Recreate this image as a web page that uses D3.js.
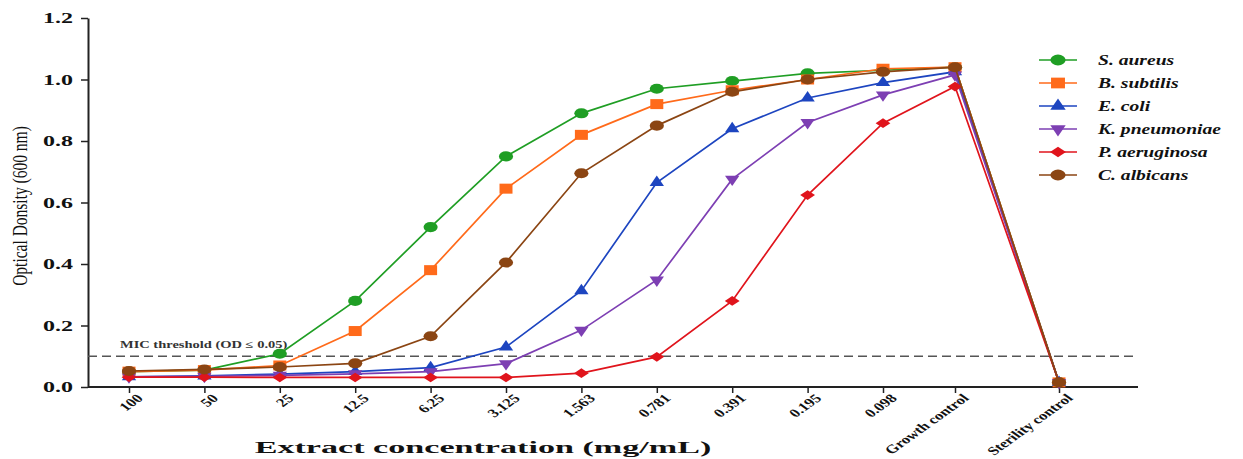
<!DOCTYPE html>
<html>
<head>
<meta charset="utf-8">
<script src="https://cdn.jsdelivr.net/npm/d3@7"></script>
<style>
  body { margin: 0; background: #fff; }
  text { font-family: "Liberation Serif", "Times New Roman", serif; }
</style>
</head>
<body>
<script>
// concentrations (mg/mL) plus the two controls
const categories = ["100", "50", "25", "12.5", "6.25", "3.125", "1.563", "0.781", "0.391", "0.195", "0.098", "Growth control", "Sterility control"];

const seriesNames = ["S. aureus", "B. subtilis", "E. coli", "K. pneumoniae", "P. aeruginosa", "C. albicans"];

const sAureus     = [0.050, 0.055, 0.108, 0.280, 0.520, 0.750, 0.890, 0.970, 0.995, 1.020, 1.030, 1.040, 0.015];
const bSubtilis   = [0.050, 0.055, 0.070, 0.182, 0.380, 0.645, 0.820, 0.920, 0.965, 1.000, 1.035, 1.040, 0.015];
const eColi       = [0.033, 0.036, 0.042, 0.050, 0.063, 0.130, 0.313, 0.665, 0.840, 0.940, 0.990, 1.025, 0.015];
const kPneumoniae = [0.033, 0.035, 0.038, 0.043, 0.050, 0.076, 0.185, 0.348, 0.676, 0.860, 0.950, 1.015, 0.015];
const pAeruginosa = [0.032, 0.032, 0.031, 0.031, 0.031, 0.031, 0.045, 0.098, 0.280, 0.624, 0.858, 0.977, 0.015];
const cAlbicans   = [0.052, 0.057, 0.065, 0.077, 0.165, 0.405, 0.695, 0.850, 0.960, 1.000, 1.025, 1.040, 0.015];

const yTicks = [0, 0.2, 0.4, 0.6, 0.8, 1.0, 1.2];
const threshold = 0.1;

const seriesValues = [sAureus, bSubtilis, eColi, kPneumoniae, pAeruginosa, cAlbicans];
const colors = ["#1f9e24", "#ff6a1a", "#1d45c0", "#7d3fb3", "#e0141c", "#8b4513"];

// the original figure is stretched sideways, so marks and text are widened
const stretch = 1.4;

// marker shapes: [symbol, size, extra transform]
const markers = [
  [d3.symbolCircle, 80, "scale(1.4,1)"],
  [d3.symbolSquare, 100, "scale(1.3,1)"],
  [d3.symbolTriangle, 62, "scale(1.2,1)"],
  [d3.symbolTriangle, 62, "rotate(180) scale(1.2,1)"],
  [d3.symbolDiamond, 62, "scale(1.75,0.66)"],
  [d3.symbolCircle, 80, "scale(1.4,1)"]
];

const width = 1243, height = 459;

const svg = d3.select("body")
  .append("svg")
  .attr("width", width)
  .attr("height", height);

// x: index based, controls sit a bit further apart than the dilutions
const x = d3.scaleLinear()
  .domain([0, 10, 11, 12])
  .range([129, 883, 955, 1059]);
const y = d3.scaleLinear()
  .domain([0, 1.2])
  .range([387, 18]);

// axes
const yAxis = svg.append("g")
  .attr("transform", "translate(88,0)")
  .call(d3.axisLeft(y).tickValues(yTicks).tickFormat(d3.format(".1f")).tickSize(7).tickSizeOuter(0));
yAxis.select(".domain").attr("stroke", "#222").attr("stroke-width", 2);
yAxis.selectAll(".tick line").attr("stroke", "#222").attr("stroke-width", 1.5);
yAxis.selectAll(".tick text")
  .attr("x", 0)
  .attr("transform", "translate(-15,0) scale(1.6,1)")
  .style("font-size", "15px")
  .style("font-weight", "bold")
  .attr("fill", "#111");

const xAxis = svg.append("g")
  .attr("transform", "translate(0,387)")
  .call(d3.axisBottom(x).tickValues(d3.range(categories.length)).tickFormat(i => categories[i]).tickSize(6).tickSizeOuter(0));
xAxis.select(".domain").attr("d", "M88,0H1138").attr("stroke", "#222").attr("stroke-width", 2);
xAxis.selectAll(".tick line").attr("stroke", "#222").attr("stroke-width", 1.5);
xAxis.selectAll(".tick text")
  .attr("text-anchor", "end")
  .attr("x", 0)
  .attr("y", 0)
  .attr("dy", "0.7em")
  .attr("transform", "translate(6,6) scale(" + stretch + ",1) rotate(-45)")
  .style("font-size", "12px")
  .style("font-weight", "bold")
  .attr("fill", "#111");

// axis titles
svg.append("text")
  .attr("transform", "translate(27,206) scale(1.35,1) rotate(-90)")
  .attr("text-anchor", "middle")
  .style("font-size", "15.5px")
  .attr("fill", "#111")
  .text("Optical Donsity (600 nm)");

svg.append("text")
  .attr("transform", "translate(483,453) scale(1.95,1)")
  .attr("text-anchor", "middle")
  .style("font-size", "17.5px")
  .style("font-weight", "bold")
  .attr("fill", "#111")
  .text("Extract concentration (mg/mL)");

// MIC threshold line
svg.append("line")
  .attr("x1", 88).attr("x2", 1133)
  .attr("y1", y(threshold)).attr("y2", y(threshold))
  .attr("stroke", "#555")
  .attr("stroke-width", 1.5)
  .attr("stroke-dasharray", "9,5");
svg.append("text")
  .attr("transform", "translate(120," + (y(threshold) - 8) + ") scale(1.38,1)")
  .style("font-size", "10.5px")
  .style("font-weight", "bold")
  .attr("fill", "#333")
  .text("MIC threshold (OD \u2264 0.05)");

// lines and markers
const line = d3.line()
  .x((d, i) => x(i))
  .y(d => y(d));

seriesValues.forEach((vals, s) => {
  const g = svg.append("g");
  g.append("path")
    .datum(vals)
    .attr("d", line)
    .attr("fill", "none")
    .attr("stroke", colors[s])
    .attr("stroke-width", 1.7);
  g.selectAll("path.pt")
    .data(vals)
    .join("path")
    .attr("class", "pt")
    .attr("transform", (d, i) => "translate(" + x(i) + "," + y(d) + ") " + markers[s][2])
    .attr("d", d3.symbol().type(markers[s][0]).size(markers[s][1]))
    .attr("fill", colors[s]);
});

// legend
const legend = svg.append("g").attr("transform", "translate(1039,60)");
seriesNames.forEach((name, s) => {
  const row = legend.append("g").attr("transform", "translate(0," + s * 23 + ")");
  row.append("line")
    .attr("x1", 0).attr("x2", 38)
    .attr("stroke", colors[s]).attr("stroke-width", 1.7);
  row.append("path")
    .attr("transform", "translate(19,0) " + markers[s][2])
    .attr("d", d3.symbol().type(markers[s][0]).size(markers[s][1] * 1.15))
    .attr("fill", colors[s]);
  row.append("text")
    .attr("transform", "translate(59,5) scale(1.4,1)")
    .style("font-size", "14px")
    .style("font-weight", "bold")
    .style("font-style", "italic")
    .attr("fill", "#111")
    .text(name);
});
</script>
</body>
</html>
